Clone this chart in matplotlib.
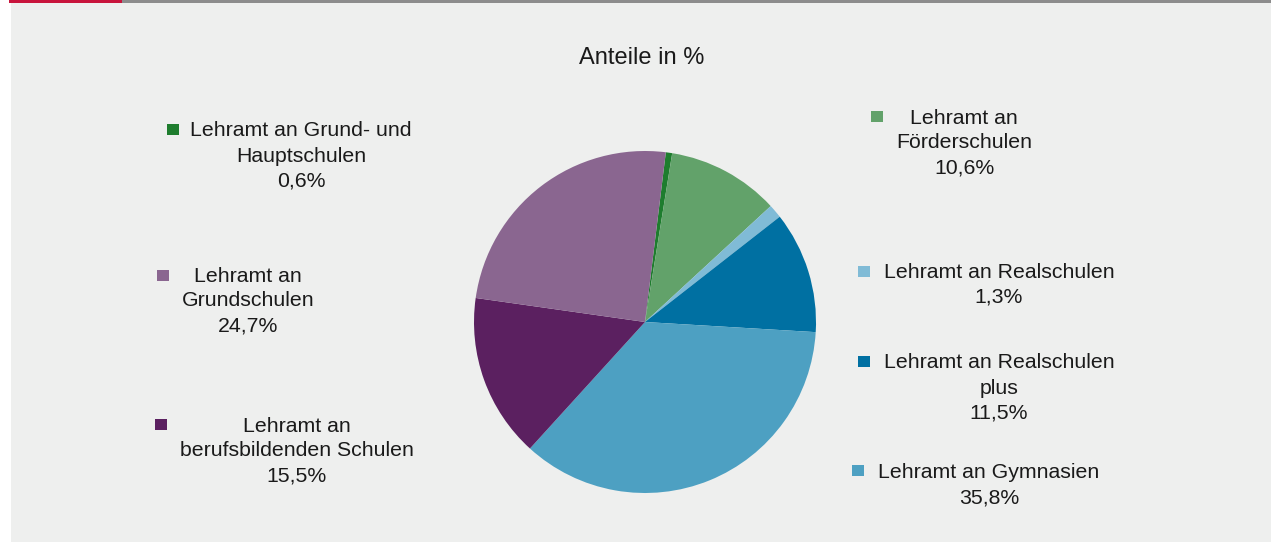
"""
Kreisdiagramm: Anteile der Lehramtsstudiengänge in %
"""
import matplotlib
matplotlib.use('Agg')
import matplotlib.pyplot as plt
from matplotlib.patches import Rectangle

# Daten (im Uhrzeigersinn ab oben)
labels = [
    'Lehramt an Grund- und\nHauptschulen',
    'Lehramt an\nFörderschulen',
    'Lehramt an Realschulen',
    'Lehramt an Realschulen\nplus',
    'Lehramt an Gymnasien',
    'Lehramt an\nberufsbildenden Schulen',
    'Lehramt an\nGrundschulen',
]
values = [0.6, 10.6, 1.3, 11.5, 35.8, 15.5, 24.7]
colors = ['#1e7d2e', '#62a26a', '#80bbd6', '#0070a2', '#4da0c2', '#5b2060', '#8a6690']

# Beschriftungspositionen (Pixel): Textmitte x, erste Zeile y, Marker x/y
label_pos = [
    (301, 131, 173, 130),
    (964, 118, 877, 117),
    (999, 272, 864, 272),
    (999, 363, 864, 362),
    (989, 473, 858, 471),
    (297, 426, 161, 425),
    (248, 276, 163, 276),
]

W, H = 1271, 542
bg = '#eeefee'
plt.rcParams['font.family'] = ['Liberation Sans', 'DejaVu Sans']

fig = plt.figure(figsize=(W / 100, H / 100), dpi=100)
fig.patch.set_facecolor('white')

# Hintergrund-Achse in Pixelkoordinaten
base = fig.add_axes([0, 0, 1, 1])
base.set_xlim(0, W)
base.set_ylim(H, 0)
base.axis('off')
base.add_patch(Rectangle((11, 3), W - 11, H - 3, color=bg, lw=0))
base.add_patch(Rectangle((122, 0), W - 122, 3, color='#8c8c8c', lw=0))
base.add_patch(Rectangle((9, 0), 113, 3, color='#c8143c', lw=0))

base.text(642, 58, 'Anteile in %', ha='center', va='center', fontsize=17, color='#1a1a1a')

# Kreis
cx, cy, r = 645, 322, 171
ax = fig.add_axes([(cx - r) / W, (H - cy - r) / H, 2 * r / W, 2 * r / H])
ax.pie(values, colors=colors, startangle=83, counterclock=False,
       wedgeprops=dict(linewidth=0))
ax.set_xlim(-1, 1)
ax.set_ylim(-1, 1)
ax.set_aspect('auto')
ax.axis('off')

line_h = 25
for lab, val, col, (tx, ty, mx, my) in zip(labels, values, colors, label_pos):
    lines = lab.split('\n') + [f'{val:.1f}%'.replace('.', ',')]
    for i, line in enumerate(lines):
        base.text(tx, ty + i * line_h, line, ha='center', va='center',
                  fontsize=15.3, color='#1a1a1a')
    base.add_patch(Rectangle((mx - 6, my - 6), 12, 11, color=col, lw=0))

fig.savefig('out.png', dpi=100, facecolor=fig.get_facecolor())
